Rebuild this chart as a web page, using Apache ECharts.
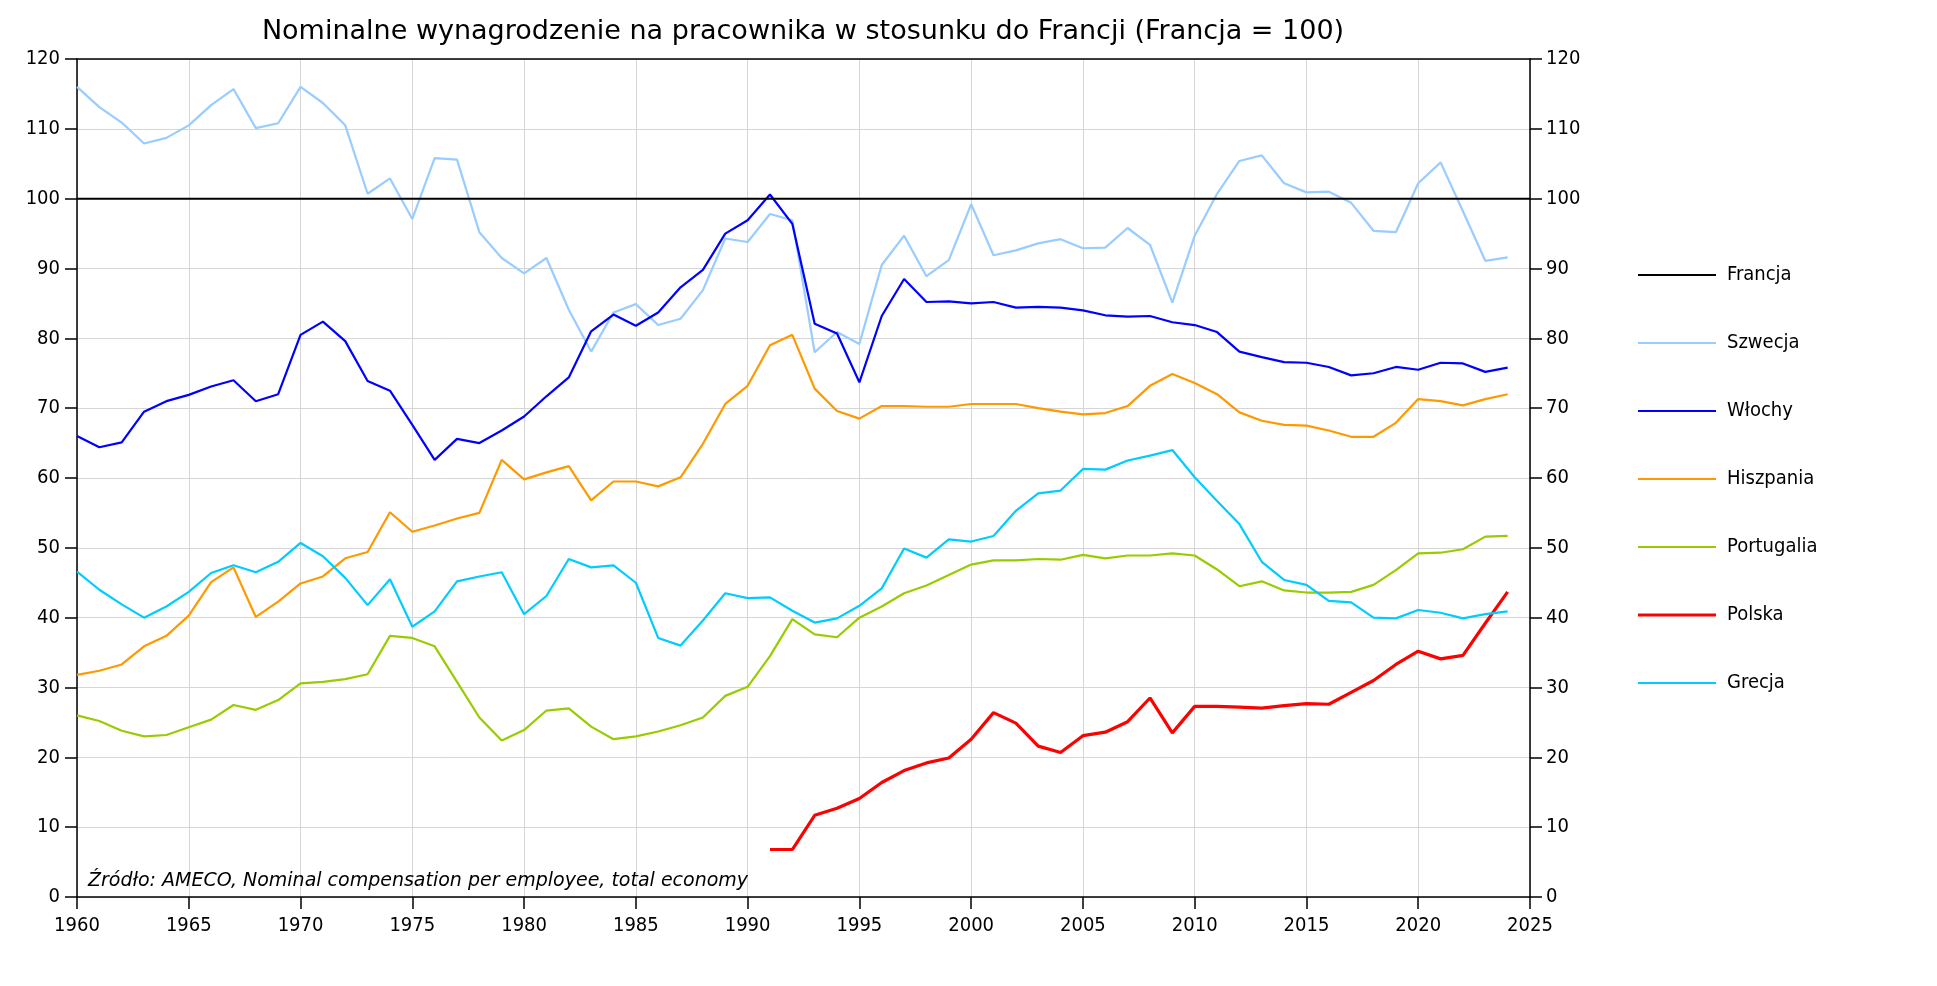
<!DOCTYPE html>
<html>
<head>
<meta charset="utf-8">
<script src="https://cdn.jsdelivr.net/npm/echarts@6/dist/echarts.min.js"></script>
<style>
html,body{margin:0;padding:0;background:#fff;}
#chart{width:1937px;height:986px;}
</style>
</head>
<body>
<div id="chart"></div>
<script>
const years = [1960,1961,1962,1963,1964,1965,1966,1967,1968,1969,
1970,1971,1972,1973,1974,1975,1976,1977,1978,1979,
1980,1981,1982,1983,1984,1985,1986,1987,1988,1989,
1990,1991,1992,1993,1994,1995,1996,1997,1998,1999,
2000,2001,2002,2003,2004,2005,2006,2007,2008,2009,
2010,2011,2012,2013,2014,2015,2016,2017,2018,2019,
2020,2021,2022,2023,2024,2025];

const francja = [100,100,100,100,100,100,100,100,100,100,
100,100,100,100,100,100,100,100,100,100,
100,100,100,100,100,100,100,100,100,100,
100,100,100,100,100,100,100,100,100,100,
100,100,100,100,100,100,100,100,100,100,
100,100,100,100,100,100,100,100,100,100,
100,100,100,100,100,100];

const szwecja = [116.0,113.1,110.9,107.9,108.7,110.5,113.4,115.7,110.1,110.8,
116.0,113.7,110.5,100.7,102.9,97.1,105.8,105.6,95.2,91.5,
89.3,91.5,84.1,78.1,83.7,84.9,81.9,82.8,86.9,94.3,
93.8,97.8,96.9,78.0,80.9,79.2,90.5,94.7,88.9,91.2,
99.2,91.9,92.6,93.6,94.2,92.9,93.0,95.8,93.4,85.1,
94.7,100.7,105.4,106.2,102.2,100.9,101.0,99.4,95.4,95.2,
102.2,105.2,98.2,91.1,91.6];

const wlochy = [66.0,64.4,65.1,69.5,71.0,71.9,73.1,74.0,71.0,72.0,
80.5,82.4,79.6,73.9,72.5,67.6,62.6,65.6,65.0,66.8,
68.8,71.7,74.4,81.0,83.4,81.8,83.7,87.3,89.8,95.0,
96.9,100.6,96.4,82.1,80.7,73.7,83.2,88.5,85.2,85.3,
85.0,85.2,84.4,84.5,84.4,84.0,83.3,83.1,83.2,82.3,
81.9,80.9,78.1,77.3,76.6,76.5,75.9,74.7,75.0,75.9,
75.5,76.5,76.4,75.2,75.8];

const hiszpania = [31.8,32.4,33.3,35.9,37.4,40.3,45.1,47.2,40.1,42.3,
44.9,45.9,48.5,49.4,55.1,52.3,53.2,54.2,55.0,62.6,
59.8,60.8,61.7,56.8,59.5,59.5,58.8,60.1,64.9,70.6,
73.2,79.0,80.5,72.8,69.6,68.5,70.3,70.3,70.2,70.2,
70.6,70.6,70.6,70.0,69.5,69.1,69.3,70.3,73.2,74.9,
73.6,72.0,69.4,68.2,67.6,67.5,66.8,65.9,65.9,67.9,
71.3,71.0,70.4,71.3,72.0];

const portugalia = [26.0,25.2,23.8,23.0,23.2,24.3,25.4,27.5,26.8,28.2,
30.6,30.8,31.2,31.9,37.4,37.1,35.9,30.8,25.7,22.4,
23.9,26.7,27.0,24.4,22.6,23.0,23.7,24.6,25.7,28.8,
30.1,34.5,39.8,37.6,37.2,40.0,41.6,43.5,44.6,46.1,
47.6,48.2,48.2,48.4,48.3,49.0,48.5,48.9,48.9,49.2,
48.9,46.9,44.5,45.2,43.9,43.6,43.6,43.7,44.7,46.8,
49.2,49.3,49.8,51.6,51.7];

const polska = [null,null,null,null,null,null,null,null,null,null,
null,null,null,null,null,null,null,null,null,null,
null,null,null,null,null,null,null,null,null,null,
null,6.8,6.8,11.7,12.7,14.1,16.4,18.1,19.2,19.9,
22.6,26.4,24.9,21.6,20.7,23.1,23.6,25.1,28.5,23.5,
27.3,27.3,27.2,27.05,27.4,27.7,27.6,29.3,31.0,33.3,
35.2,34.1,34.6,39.2,43.7];

const grecja = [46.6,44.0,41.9,40.0,41.6,43.7,46.4,47.5,46.5,48.0,
50.7,48.8,45.7,41.8,45.5,38.7,40.9,45.2,45.9,46.5,
40.5,43.1,48.4,47.2,47.5,45.0,37.1,36.0,39.6,43.5,
42.8,42.9,41.0,39.3,39.9,41.7,44.2,49.9,48.6,51.2,
50.9,51.7,55.3,57.8,58.2,61.3,61.2,62.5,63.2,64.0,
60.1,56.7,53.4,48.0,45.4,44.7,42.4,42.2,40.0,39.9,
41.1,40.7,39.9,40.5,40.9];

const seriesNames = ['Francja','Szwecja','Włochy','Hiszpania','Portugalia','Polska','Grecja'];
const seriesValues = [francja, szwecja, wlochy, hiszpania, portugalia, polska, grecja];
const seriesColors = ['#000000','#99CCFF','#0000FF','#FF9900','#99CC00','#FF0000','#00CCFF'];
const seriesWidths = [2,2.2,2.2,2.2,2.2,3.2,2.2];

const titleText = 'Nominalne wynagrodzenie na pracownika w stosunku do Francji (Francja = 100)';
const sourceText = 'Źródło: AMECO, Nominal compensation per employee, total economy';

const FONT = '"DejaVu Sans Condensed", "DejaVu Sans", sans-serif';

function pairs(vals){
  const out = [];
  for (let i = 0; i < vals.length; i++) {
    out.push([years[i], vals[i] === null ? null : vals[i]]);
  }
  return out;
}

const chart = echarts.init(document.getElementById('chart'), null, {renderer:'canvas'});

const series = seriesNames.map((n, i) => ({
  name: n,
  type: 'line',
  data: pairs(seriesValues[i]),
  symbol: 'none',
  showSymbol: false,
  connectNulls: false,
  lineStyle: {color: seriesColors[i], width: seriesWidths[i]},
  itemStyle: {color: seriesColors[i]},
  emphasis: {disabled: true},
  animation: false,
  z: i === 0 ? 3 : 2
}));

const legendData = seriesNames.map((n, i) => {
  const h = i === 5 ? 3 : 2;
  return {name: n, icon: 'path://M0,0 L78,0 L78,' + h + ' L0,' + h + ' Z', itemStyle: {color: seriesColors[i]}};
});

const option = {
  animation: false,
  backgroundColor: '#ffffff',
  grid: {left: 77, right: 407, top: 59, bottom: 89, containLabel: false},
  graphic: [
    {type:'text', x: 803, y: 32, z: 10, style:{text: titleText, fill:'#000', font: '27px "DejaVu Sans", sans-serif', textAlign:'center', textVerticalAlign:'middle'}},
    {type:'text', x: 88, y: 881, z: 10, style:{text: sourceText, fill:'#000', font: 'italic 19px "DejaVu Sans", sans-serif', textAlign:'left', textVerticalAlign:'middle'}}
  ],
  legend: {
    orient: 'vertical',
    left: 1638,
    top: 265,
    padding: 0,
    itemWidth: 78,
    itemHeight: 14,
    itemGap: 48,
    data: legendData,
    selectedMode: false,
    textStyle: {fontFamily: FONT, fontSize: 20, color: '#000', padding: [0,0,0,6]}
  },
  xAxis: [{
    type: 'value', min: 1960, max: 2025, interval: 5,
    axisLine: {show: true, onZero: false, lineStyle: {color:'#000', width: 1.5}},
    axisTick: {show: true, inside: false, length: 12, lineStyle:{color:'#000', width:1.5}},
    axisLabel: {fontFamily: FONT, fontSize: 20, color: '#000', margin: 19, formatter: v => String(v)},
    splitLine: {show: true, lineStyle: {color: '#d6d6d6', width: 1}}
  },{
    type: 'value', min: 1960, max: 2025, interval: 5, position: 'top',
    axisLine: {show: true, onZero: false, lineStyle: {color:'#000', width: 1.5}},
    axisTick: {show: false}, axisLabel: {show: false}, splitLine: {show: false}
  }],
  yAxis: [{
    type: 'value', min: 0, max: 120, interval: 10, position: 'left',
    axisLine: {show: true, onZero: false, lineStyle: {color:'#000', width: 1.5}},
    axisTick: {show: true, inside: false, length: 12, lineStyle:{color:'#000', width:1.5}},
    axisLabel: {fontFamily: FONT, fontSize: 20, color: '#000', margin: 17},
    splitLine: {show: true, lineStyle: {color: '#d6d6d6', width: 1}}
  },{
    type: 'value', min: 0, max: 120, interval: 10, position: 'right',
    axisLine: {show: true, onZero: false, lineStyle: {color:'#000', width: 1.5}},
    axisTick: {show: true, inside: false, length: 12, lineStyle:{color:'#000', width:1.5}},
    axisLabel: {fontFamily: FONT, fontSize: 20, color: '#000', margin: 16},
    splitLine: {show: false}
  }],
  series: series
};
chart.setOption(option);
</script>
</body>
</html>
